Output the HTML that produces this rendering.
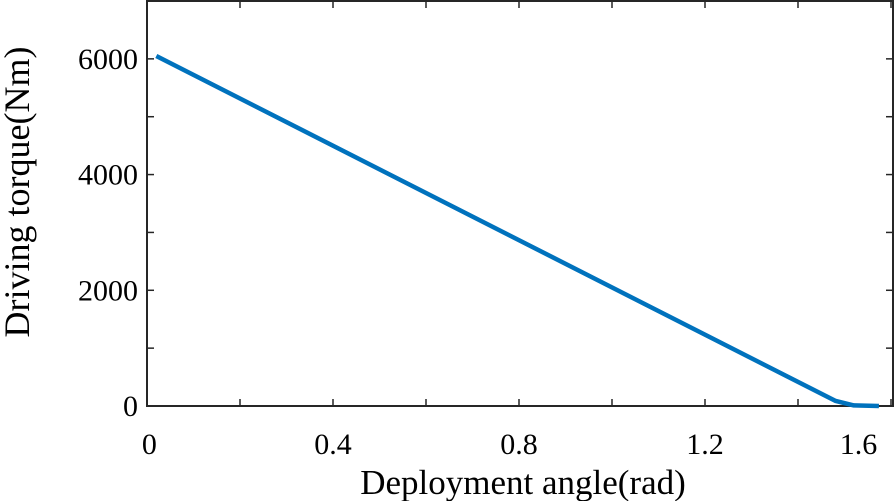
<!DOCTYPE html>
<html><head><meta charset="utf-8"><style>
body{margin:0;background:#fff}
svg{display:block;font-family:"Liberation Serif",serif}
</style></head><body>
<svg id="chart" width="895" height="501" viewBox="0 0 895 501">
<g id="axes"></g>
</svg>
<script>
const xTicks=[0,0.2,0.4,0.6,0.8,1.0,1.2,1.4,1.6];
const xLabels=["0","0.4","0.8","1.2","1.6"];
const xLabelVals=[0.005,0.4,0.8,1.2,1.53];
const yTicks=[0,1000,2000,3000,4000,5000,6000,7000];
const yLabels=["0","2000","4000","6000"];
const yLabelVals=[0,2000,4000,6000];
const angle=[0.02,1.48,1.52,1.574];
const torque=[6050,90,10,0];
const L=147,R=893,T=1,B=406;
const X=v=>L+v*465;
const Y=v=>B-v*(B-T)/7000;
const NS="http://www.w3.org/2000/svg";
const g=document.getElementById('axes');
function mk(t,a){const e=document.createElementNS(NS,t);for(const k in a)e.setAttribute(k,a[k]);g.appendChild(e);return e;}
let box=mk('rect',{x:L,y:T,width:R-L,height:B-T,fill:'none',stroke:'#262626','stroke-width':2});

xTicks.forEach(v=>{const x=X(v);if(x>R-1)return;
 let t=mk('line',{x1:x,x2:x,y1:B,y2:B-7,stroke:'#262626','stroke-width':1.5});
 
 let t2=mk('line',{x1:x,x2:x,y1:T,y2:T+7,stroke:'#262626','stroke-width':1.5});
 });
yTicks.forEach(v=>{const y=Y(v);
 let t=mk('line',{x1:L,x2:L+7,y1:y,y2:y,stroke:'#262626','stroke-width':1.5});
 
 let t2=mk('line',{x1:R,x2:R-7,y1:y,y2:y,stroke:'#262626','stroke-width':1.5});
 });
xLabels.forEach((s,i)=>{let t=mk('text',{x:X(xLabelVals[i]),y:454,'text-anchor':'middle','font-size':30});t.textContent=s;
 });
yLabels.forEach((s,i)=>{let t=mk('text',{x:138,y:Y(yLabelVals[i])+10,'text-anchor':'end','font-size':30});t.textContent=s;
 });
let xt=mk('text',{x:523,y:494,'text-anchor':'middle','font-size':35});xt.textContent='Deployment angle(rad)';

let yt=mk('text',{x:0,y:0,'text-anchor':'middle','font-size':36,transform:'translate(29,192) rotate(-90)'});yt.textContent='Driving torque(Nm)';

let p=mk('polyline',{points:angle.map((a,i)=>X(a)+','+Y(torque[i])).join(' '),fill:'none',stroke:'#0072BD','stroke-width':4.5,'stroke-linejoin':'round'});

</script>
</body></html>
